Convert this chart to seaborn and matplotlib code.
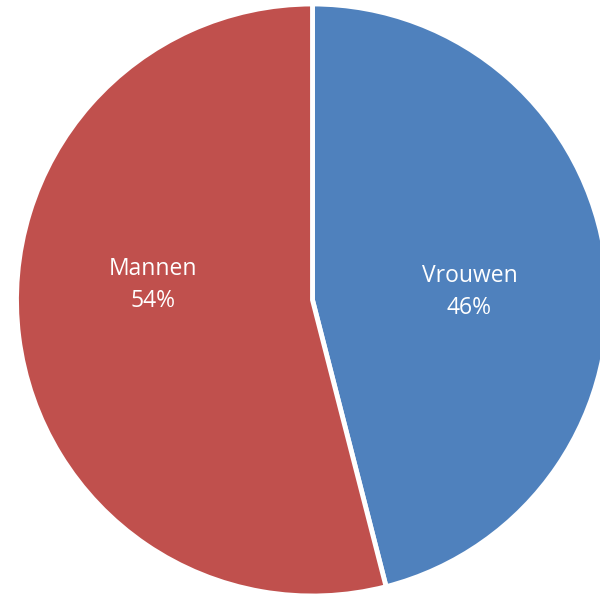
import matplotlib
matplotlib.use("Agg")
import matplotlib.pyplot as plt
import seaborn as sns

# DATA
labels = ['Vrouwen', 'Mannen']
values = [46, 54]
colors = ['#4F81BD', '#C0504D']

sns.set_theme(style='white')
plt.rcParams['font.family'] = ['Open Sans', 'DejaVu Sans']

fig = plt.figure(figsize=(6, 5.96), dpi=100)
# pie centre at (312.5, 300) px, radius ~296 px
r_px = 296
cx, cy = 312.5, 596 - 300
ax = fig.add_axes([(cx - r_px) / 600, (cy - r_px) / 596, 2 * r_px / 600, 2 * r_px / 596])

wedges, texts, autotexts = ax.pie(
    values,
    colors=colors,
    startangle=90,
    counterclock=False,
    autopct=lambda p: '',
    wedgeprops=dict(edgecolor='white', linewidth=3.5),
)

# label positions as in the original (pixel offsets from centre / radius)
label_pos = [(0.53, 0.027), (-0.54, 0.05)]
for at, lab, v, pos in zip(autotexts, labels, values, label_pos):
    at.set_text(f'{lab}\n{v}%')
    at.set_position(pos)
    at.set_color('white')
    at.set_fontsize(16.5)
    at.set_linespacing(1.45)

ax.set_xlim(-1, 1)
ax.set_ylim(-1, 1)
ax.set_aspect('equal')
ax.axis('off')

fig.savefig('out.png', dpi=100, facecolor='white')
